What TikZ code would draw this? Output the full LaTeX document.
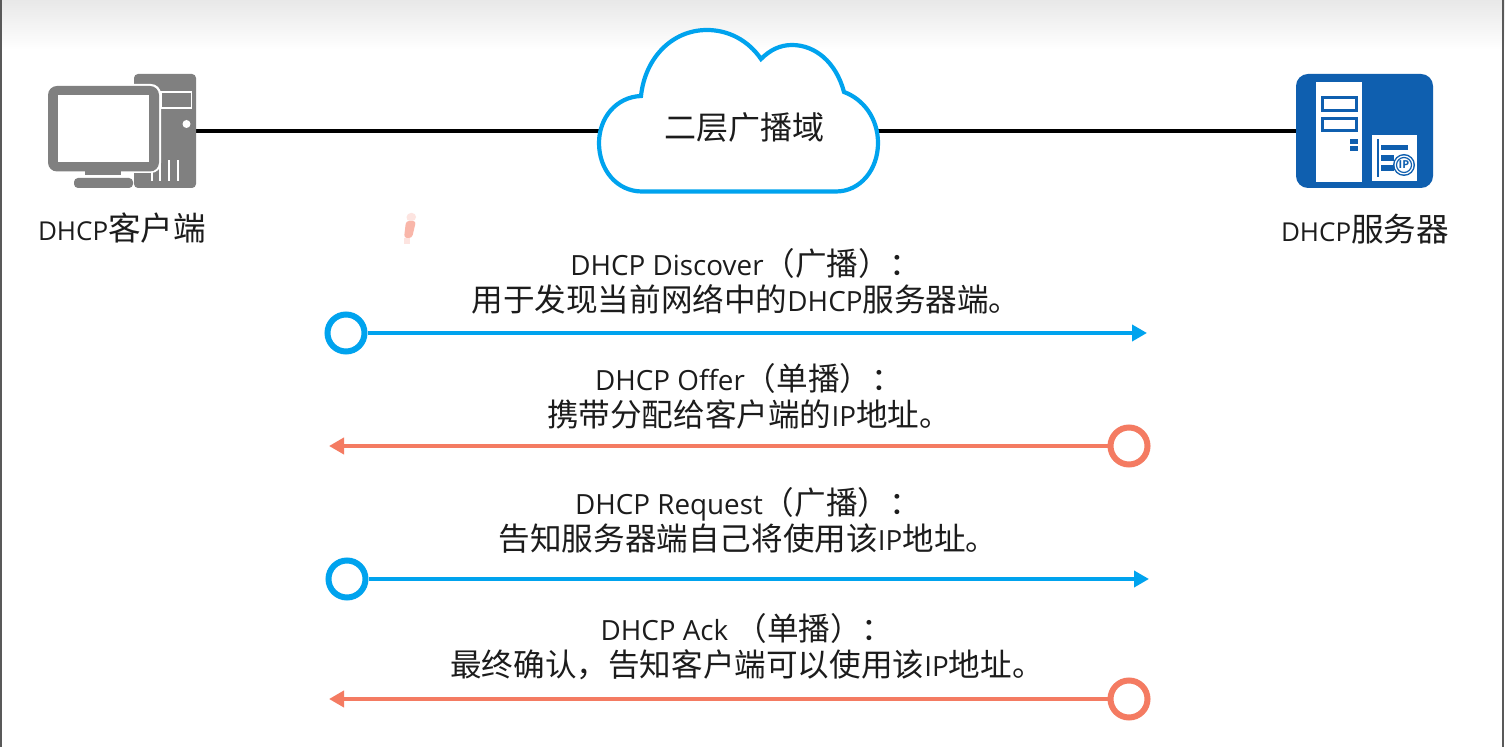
\documentclass[tikz,border=0pt]{standalone}
\usepackage{fontspec}
\setmainfont{Open Sans}
\newfontfamily\cjk{Noto Sans CJK SC}
\usetikzlibrary{arrows.meta,positioning}
\definecolor{netblue}{HTML}{00A3EE}
\definecolor{replyred}{HTML}{F47B62}
\definecolor{pcgray}{HTML}{808080}
\definecolor{srvblue}{HTML}{0F5FAF}
\definecolor{ink}{HTML}{1C1C1C}
% Chinese runs carry their own size, a little larger than the Latin text around them
\newcommand{\zh}[2][15.8]{{\fontsize{#1}{18}\selectfont\cjk #2}}
\tikzset{
  x=0.5pt,y=-0.5pt,
  link/.style={line width=2pt,draw=black},
  label/.style={inner sep=0pt,text=ink,font=\fontsize{13}{17}\selectfont},
  msg/.style={inner sep=0pt,text=ink,align=center,font=\fontsize{13.9}{18}\selectfont},
  flow/.style={line width=2.4pt,draw=#1,-{Triangle[length=7.5pt,width=8pt]}},
  origin/.style={circle,draw=#1,line width=3pt,fill=white,minimum size=18.5pt,inner sep=0pt},
  pcfill/.style={fill=pcgray,draw=none},
  srvfill/.style={fill=srvblue,draw=none},
  blank/.style={fill=white,draw=none},
}
\begin{document}
\begin{tikzpicture}
\useasboundingbox (0,0) rectangle (1505,747);
\fill[white] (0,0) rectangle (1505,747);
% window header band and side edges
\shade[top color=black!9,bottom color=white,draw=none] (0,0) rectangle (1505,50);
\fill[black!65] (0,0) rectangle (1.5,747);
\fill[black!65] (1502,0) rectangle (1503.5,747);

% anchors for the icons and the cloud
\coordinate (client) at (196,131.5);
\coordinate (server) at (1296,131.5);
\coordinate (cloudW) at (599,131.5);
\coordinate (cloudE) at (878,131.5);
\draw[link] (client) -- (cloudW);
\draw[link] (cloudE) -- (server);

% cloud
\draw[draw=netblue,line width=2.1pt,fill=white,line join=miter]
  (642,191.5) -- (836,191.5)
  .. controls (860,191.5) and (878,170) .. (878,143)
  .. controls (878,118) and (863,99) .. (844,92)
  .. controls (836,62) and (815,45) .. (792,45)
  .. controls (780,45) and (770,50) .. (761,59)
  .. controls (748,40) and (728,30) .. (707,30)
  .. controls (672,30) and (645,58) .. (641,96)
  .. controls (616,97) and (599,118) .. (599,143)
  .. controls (599,170) and (617,191.5) .. (642,191.5) -- cycle;
\node[inner sep=0pt,text=ink] (cloudtext) at (744,127) {\zh[16]{二层广播域}};

% client computer
\fill[pcfill,rounded corners=2pt] (134,74) rectangle (196,188);
\fill[blank] (160,91) rectangle (192,109);
\fill[pcfill] (162,93) rectangle (190.5,107);
\fill[blank] (186.5,124) circle[radius=4];
\foreach \vx in {152,160,169,178}{\fill[blank] (\vx-1,160) rectangle (\vx+1,181);}
\fill[blank,rounded corners=5pt] (46,84) rectangle (161,173);
\fill[pcfill,rounded corners=4.5pt] (48,86) rectangle (159,171.5);
\fill[blank] (58,95) rectangle (149,162);
\fill[pcfill] (85,171) rectangle (121,175);
\fill[pcfill,rounded corners=2pt] (74,178) rectangle (133,188);
\node[label] (clientlabel) at (122,228) {DHCP\zh[16.3]{客户端}};

% DHCP server
\fill[srvfill,rounded corners=6pt] (1296,74) rectangle (1433,188);
\fill[blank] (1316,82) rectangle (1362,182);
\draw[srvblue,line width=1.5pt] (1322.5,97.5) rectangle (1356.5,110.5);
\draw[srvblue,line width=1.5pt] (1322.5,118.5) rectangle (1356.5,130.5);
\fill[srvfill] (1350,139) rectangle (1358,144);
\fill[srvfill] (1350,146) rectangle (1358,151);
\fill[blank] (1372,135) rectangle (1417,181);
\fill[srvfill] (1377,139) rectangle (1379,177);
\fill[srvfill] (1381,145) rectangle (1408,150);
\fill[srvfill] (1381,155) rectangle (1394,161);
\fill[srvfill] (1381,165) rectangle (1394,171);
\fill[srvfill] (1404,165) circle[radius=11];
\fill[blank] (1404,165) circle[radius=9.5];
\draw[srvblue,line width=0.6pt] (1404,165) circle[radius=7.5];
\node[inner sep=0pt,text=srvblue,font=\fontsize{5.5}{6}\bfseries\selectfont] (iptag) at (1404,165) {IP};
\node[label] (serverlabel) at (1365,229) {DHCP\zh[16.3]{服务器}};

% stray mark beside the first message
\fill[replyred!55,rounded corners=1.5pt] (406,221) -- (416,221) -- (412,238) -- (404,238) -- cycle;
\fill[replyred!20,rounded corners=2pt] (407,213) -- (416,213) -- (416,221) -- (406,221) -- cycle;
\fill[replyred!20] (404,238) rectangle (410,244);

% message exchange
\node[origin=netblue] (a) at (346,333) {};
\coordinate (b) at (1147,333);
\draw[flow=netblue] (a) -- (b);
\node[origin=replyred] (c) at (1129,446) {};
\coordinate (d) at (329,446);
\draw[flow=replyred] (c) -- (d);
\node[origin=netblue] (e) at (347,579) {};
\coordinate (f) at (1149,579);
\draw[flow=netblue] (e) -- (f);
\node[origin=replyred] (g) at (1129,699) {};
\coordinate (h) at (329,699);
\draw[flow=replyred] (g) -- (h);

\node[msg] (m1) at (746,281) {DHCP Discover\zh{（广播）：}\\\zh{用于发现当前网络中的}DHCP\zh{服务器端。}};
\node[msg] (m2) at (749,396) {DHCP Offer\zh{（单播）：}\\\zh{携带分配给客户端的}IP\zh{地址。}};
\node[msg] (m3) at (748,520) {DHCP Request\zh{（广播）：}\\\zh{告知服务器端自己将使用该}IP\zh{地址。}};
\node[msg] (m4) at (747,647) {DHCP Ack \zh{（单播）：}\\\zh{最终确认，告知客户端可以使用该}IP\zh{地址。}};
\end{tikzpicture}
\end{document}
